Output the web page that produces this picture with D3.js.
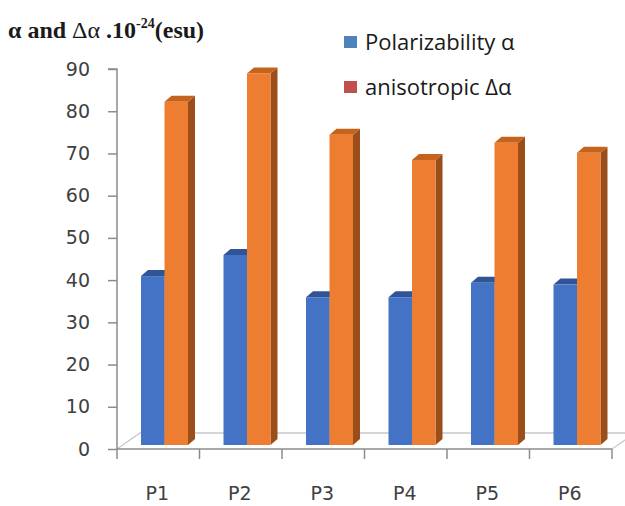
<!DOCTYPE html>
<html>
<head>
<meta charset="utf-8">
<script src="https://cdn.jsdelivr.net/npm/d3@7"></script>
<style>
  body { margin: 0; background: #fff; }
  svg { display: block; }
</style>
</head>
<body>
<svg id="chart" width="625" height="506"></svg>
<script>
// chart data
const categories = ["P1", "P2", "P3", "P4", "P5", "P6"];
const seriesNames = ["Polarizability α", "anisotropic Δα"];
const polarizability = [40, 45, 35, 35, 38.4, 38];
const anisotropic = [81.3, 88, 73.5, 67.5, 71.6, 69.2];
const yTicks = [0, 10, 20, 30, 40, 50, 60, 70, 80, 90];

const svg = d3.select("#chart");

// axis scale (front of the floor) and bar scale (bars sit a bit deeper)
const y = d3.scaleLinear().domain([0, 90]).range([449, 69]);
const yBar = d3.scaleLinear().domain([0, 90]).range([445, 65]);
const x = d3.scaleBand().domain(categories).range([117, 612]);
const xs = d3.scaleBand().domain([0, 1]).range([24, 71]);

const depth = { dx: 7, dy: -6 };      // bar 3d depth
const floorDepth = { dx: 23, dy: -16 }; // floor depth

const colors = [
  { front: "#4472C4", top: "#2F5597", side: "#2F5597" },
  { front: "#ED7D31", top: "#C5621C", side: "#9C4E1A" }
];
const legendColors = ["#4F81BD", "#C0504D"];
const axisFont = "'DejaVu Sans', sans-serif";

// floor
const x0 = x.range()[0], x1 = x.range()[1];
svg.append("path")
  .attr("d", `M${x0},${y(0)} L${x0 + floorDepth.dx},${y(0) + floorDepth.dy} L${x1 + floorDepth.dx},${y(0) + floorDepth.dy} L${x1},${y(0)}`)
  .attr("fill", "none")
  .attr("stroke", "#c8c8c8")
  .attr("stroke-width", 1.3);

// y axis
const yAxis = d3.axisLeft(y).tickValues(yTicks).tickSize(9).tickPadding(18);
const gy = svg.append("g")
  .attr("transform", `translate(${x0},0)`)
  .call(yAxis);
gy.select(".domain").attr("stroke", "#8c8c8c").attr("stroke-width", 1.5)
  .attr("d", `M-9,${y(90)}H0V${y(0)}`);
gy.selectAll(".tick line").attr("stroke", "#8c8c8c").attr("stroke-width", 1.5);
gy.selectAll(".tick text")
  .attr("font-family", axisFont)
  .attr("font-size", 19)
  .attr("fill", "#404040");

// x axis: front floor edge with ticks at category boundaries
const gx = svg.append("g").attr("transform", `translate(0,${y(0)})`);
gx.append("line")
  .attr("x1", x0).attr("x2", x1)
  .attr("stroke", "#8c8c8c").attr("stroke-width", 1.5);
const bounds = categories.map(c => x(c)).concat([x1]);
gx.selectAll(".xt").data(bounds).enter().append("line")
  .attr("x1", d => d).attr("x2", d => d)
  .attr("y1", 0).attr("y2", 10)
  .attr("stroke", "#8c8c8c").attr("stroke-width", 1.5);
gx.selectAll(".xl").data(categories).enter().append("text")
  .attr("x", d => x(d) + x.bandwidth() / 2 - 1)
  .attr("y", 51)
  .attr("text-anchor", "middle")
  .attr("font-family", axisFont)
  .attr("font-size", 19)
  .attr("fill", "#404040")
  .text(d => d);

// bars
const series = [polarizability, anisotropic];
categories.forEach((cat, i) => {
  series.forEach((vals, s) => {
    const bx = x(cat) + xs(s);
    const bw = xs.bandwidth();
    const top = yBar(vals[i]);
    const base = yBar(0);
    const c = colors[s];
    const g = svg.append("g");
    // side face
    g.append("path")
      .attr("d", `M${bx + bw},${base} L${bx + bw + depth.dx},${base + depth.dy} L${bx + bw + depth.dx},${top + depth.dy} L${bx + bw},${top} Z`)
      .attr("fill", c.side);
    // top face
    g.append("path")
      .attr("d", `M${bx},${top} L${bx + depth.dx},${top + depth.dy} L${bx + bw + depth.dx},${top + depth.dy} L${bx + bw},${top} Z`)
      .attr("fill", c.top);
    // front face
    g.append("rect")
      .attr("x", bx).attr("y", top)
      .attr("width", bw).attr("height", base - top)
      .attr("fill", c.front);
  });
});

// title
const title = svg.append("text")
  .attr("x", 8).attr("y", 38)
  .attr("font-family", "'Liberation Serif', serif")
  .attr("font-weight", "bold")
  .attr("font-size", 24)
  .attr("fill", "#1a1a1a");
title.append("tspan").text("α and ");
title.append("tspan").attr("font-weight", "normal").text("Δα");
title.append("tspan").text(" .10");
title.append("tspan").attr("dy", -10).attr("font-size", 14).text("-24");
title.append("tspan").attr("dy", 10).text("(esu)");

// legend
const legend = svg.append("g").attr("transform", "translate(344,36)");
seriesNames.forEach((name, i) => {
  const row = legend.append("g").attr("transform", `translate(0,${i * 45})`);
  row.append("rect").attr("width", 13).attr("height", 12).attr("fill", legendColors[i]);
  row.append("text")
    .attr("x", 21).attr("y", 14)
    .attr("font-family", "'Open Sans', sans-serif")
    .attr("font-size", 22)
    .attr("fill", "#1a1a1a")
    .text(name);
});
</script>
</body>
</html>
